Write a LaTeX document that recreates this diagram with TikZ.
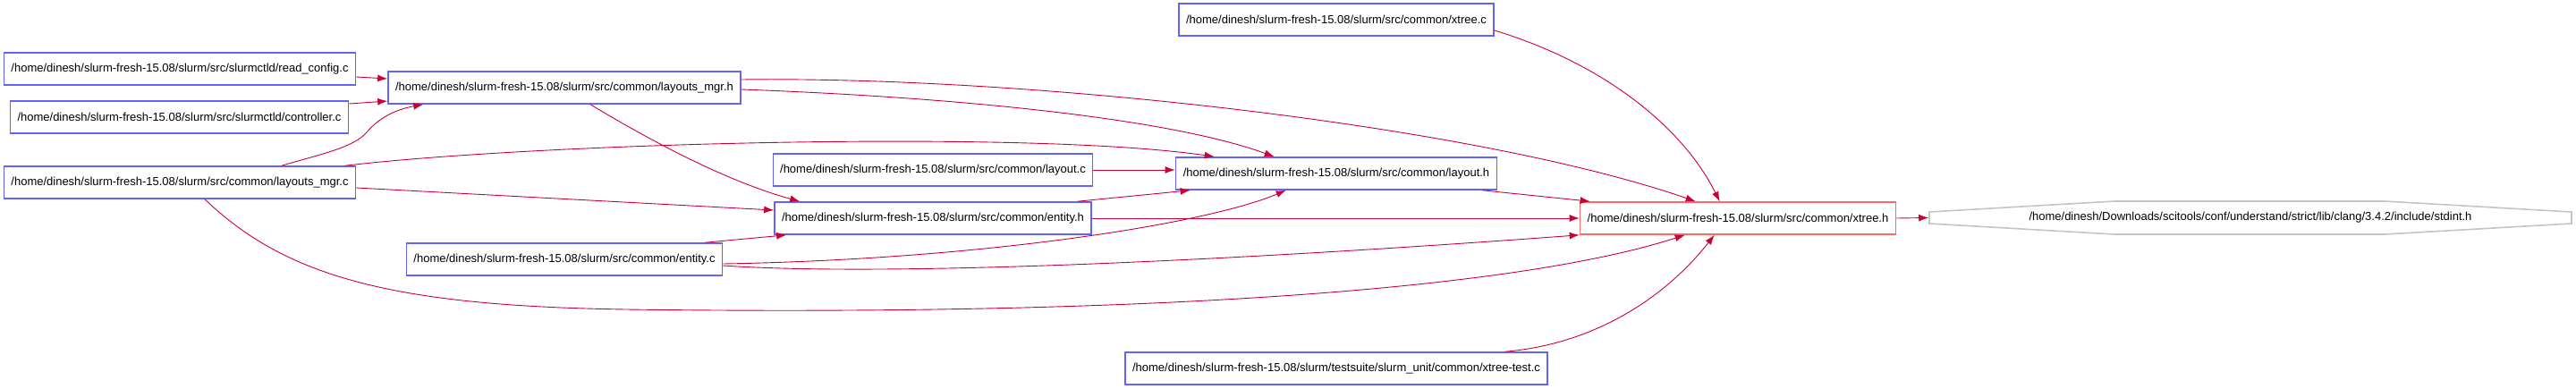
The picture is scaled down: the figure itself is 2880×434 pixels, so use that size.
\documentclass[tikz,border=0pt]{standalone}
\usepackage{fontspec}
\setmainfont{Liberation Sans}
\usetikzlibrary{arrows.meta,positioning,calc}
\definecolor{BoxBlue}{HTML}{6262FF}
\definecolor{BoxRed}{HTML}{FF6666}
\definecolor{DepRed}{HTML}{CC0033}
\definecolor{SysGray}{HTML}{C4C4C4}
\newcommand{\SrcFile}[4]{%
  \node[srcbox,minimum width=#3] (#1) at (#2) {#4};%
}

\begin{document}
\begin{tikzpicture}[x=0.5pt,y=-0.5pt,
  srcbox/.style={draw=BoxBlue,line width=0.8pt,fill=white,minimum height=18pt,inner sep=0pt,font=\fontsize{6.5}{7}\selectfont},
  dep/.style={draw=DepRed,line width=0.45pt,-{Latex[length=5.5pt,width=4pt]}}]
\useasboundingbox (0,0) rectangle (2880,434);
% files
\SrcFile{rc}{201,77}{196.5pt}{/home/dinesh/slurm-fresh-15.08/slurm/src/slurmctld/read\_config.c}
\SrcFile{ctl}{200.5,131}{189pt}{/home/dinesh/slurm-fresh-15.08/slurm/src/slurmctld/controller.c}
\SrcFile{lmc}{201,204}{196.5pt}{/home/dinesh/slurm-fresh-15.08/slurm/src/common/layouts\_mgr.c}
\SrcFile{lmh}{631,98}{197pt}{/home/dinesh/slurm-fresh-15.08/slurm/src/common/layouts\_mgr.h}
\SrcFile{ec}{631,290}{176.5pt}{/home/dinesh/slurm-fresh-15.08/slurm/src/common/entity.c}
\SrcFile{lc}{1043,190}{178.5pt}{/home/dinesh/slurm-fresh-15.08/slurm/src/common/layout.c}
\SrcFile{eh}{1043,244}{177pt}{/home/dinesh/slurm-fresh-15.08/slurm/src/common/entity.h}
\SrcFile{xc}{1494,22}{176pt}{/home/dinesh/slurm-fresh-15.08/slurm/src/common/xtree.c}
\SrcFile{lh}{1494,194}{179.5pt}{/home/dinesh/slurm-fresh-15.08/slurm/src/common/layout.h}
\SrcFile{xt}{1494,412}{236pt}{/home/dinesh/slurm-fresh-15.08/slurm/testsuite/slurm\_unit/common/xtree-test.c}
\node[srcbox,draw=BoxRed,minimum width=176.5pt] (xh) at (1943,244) {/home/dinesh/slurm-fresh-15.08/slurm/src/common/xtree.h};
\node[srcbox,draw=none,fill=none,minimum width=359pt] (si) at (2516,243.5) {/home/dinesh/Downloads/scitools/conf/understand/strict/lib/clang/3.4.2/include/stdint.h};
\draw[SysGray,line width=0.8pt,shift={(si.center)}] (-359,-6.5) -- (-152,-18.5) -- (150,-18.5) -- (359,-6.5)
  -- (359,6.5) -- (150,18.5) -- (-152,18.5) -- (-359,6.5) -- cycle;
% includes
\draw[dep] ($(rc.east)+(0,9)$) -- ($(lmh.west)+(0,-10)$);
\draw[dep] ($(ctl.east)+(0,-15)$) -- ($(lmh.west)+(0,15)$);
\draw[dep] ($(lmc.north)+(114,0)$) .. controls (360,172) and (395,165) .. (410,148)
  .. controls (425,130) and (445,122) .. ($(lmh.south west)+(40,0)$);
\draw[dep] ($(lmc.north east)+(-12,0)$) .. controls (600,160) and (1150,145) .. ($(lh.north west)+(44,0)$);
\draw[dep] ($(lmc.east)+(0,6)$) -- ($(eh.west)+(0,-9)$);
\draw[dep] ($(lmc.south)+(28,0)$) .. controls (320,310) and (440,342) .. (700,346)
  .. controls (1300,354) and (1700,322) .. ($(xh.south west)+(118,0)$);
\draw[dep] ($(lmh.south)+(29,0)$) .. controls (740,165) and (820,205) .. ($(eh.north west)+(29,0)$);
\draw[dep] ($(lmh.east)+(0,2)$) .. controls (1050,108) and (1300,130) .. ($(lh.north west)+(111,0)$);
\draw[dep] ($(lmh.east)+(0,-9)$) .. controls (1150,85) and (1650,140) .. ($(xh.north west)+(130,0)$);
\draw[dep] ($(xc.east)+(0,12)$) .. controls (1790,70) and (1880,140) .. ($(xh.north west)+(157,0)$);
\draw[dep] (lc.east) -- (lc.east -| lh.west);
\draw[dep] ($(lh.south east)+(-17,0)$) -- ($(xh.north west)+(12,0)$);
\draw[dep] ($(eh.north east)+(-16,0)$) -- ($(lh.south west)+(17,0)$);
\draw[dep] ($(ec.north east)+(-20,0)$) -- ($(eh.south west)+(14,0)$);
\draw[dep] ($(ec.east)+(0,5)$) .. controls (1100,290) and (1350,250) .. ($(lh.south west)+(124,0)$);
\draw[dep] ($(ec.east)+(0,7)$) .. controls (1000,310) and (1400,290) .. (xh.south west);
\draw[dep] ($(xt.north east)+(-48,0)$) .. controls (1780,385) and (1860,335) .. ($(xh.south west)+(151,0)$);
\foreach \a/\b in {eh/xh, xh/si}
  \draw[dep] (\a.east) -- (\b.west);
\end{tikzpicture}
\end{document}
